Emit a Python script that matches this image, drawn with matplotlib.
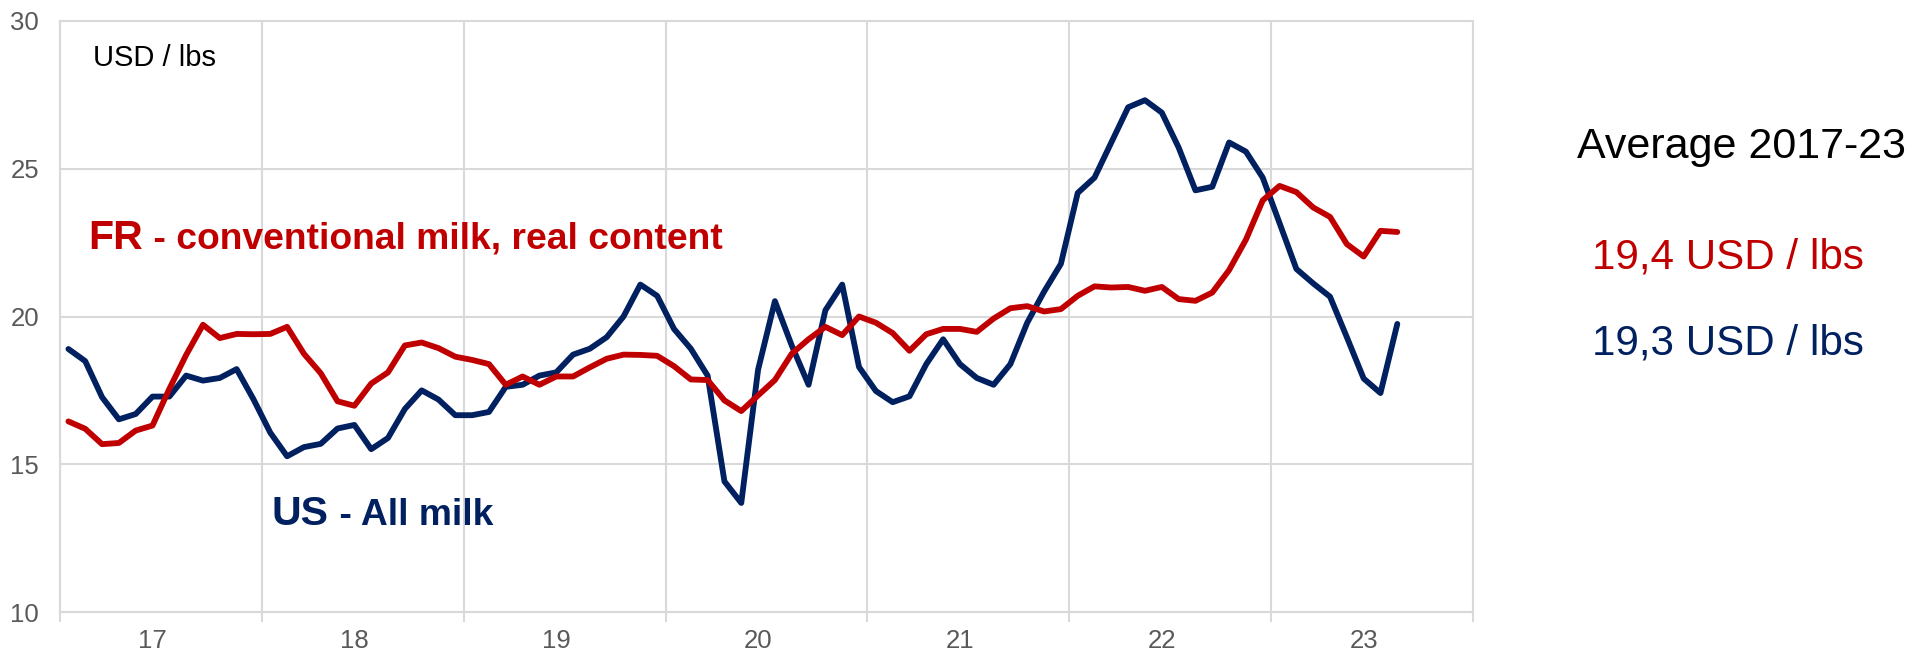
import numpy as np
from matplotlib import pyplot as plt

# Monthly milk prices, Jan 2017 - Aug 2023 (USD / lbs)
us_all_milk = [
	18.9, 18.49, 17.27, 16.52, 16.7, 17.29, 17.29, 18.0, 17.83, 17.92, 18.22, 17.2,
	16.07, 15.27, 15.58, 15.69, 16.21, 16.33, 15.51, 15.89, 16.87, 17.5, 17.19, 16.66,
	16.66, 16.77, 17.62, 17.69, 18.0, 18.11, 18.71, 18.91, 19.3, 20.0, 21.08, 20.7,
	19.58, 18.91, 18.0, 14.42, 13.69, 18.2, 20.52, 19.02, 17.69, 20.21, 21.08, 18.29,
	17.48, 17.1, 17.3, 18.39, 19.23, 18.39, 17.92, 17.69, 18.39, 19.79, 20.84, 21.78,
	24.18, 24.7, 25.89, 27.08, 27.32, 26.9, 25.72, 24.27, 24.39, 25.89, 25.58, 24.7,
	23.16, 21.61, 21.12, 20.67, 19.3, 17.9, 17.41, 19.75,
]
fr_conventional = [
	16.45, 16.2, 15.68, 15.72, 16.14, 16.31, 17.55, 18.7, 19.72, 19.27, 19.41, 19.4,
	19.41, 19.65, 18.74, 18.08, 17.13, 16.98, 17.73, 18.11, 19.02, 19.12, 18.93, 18.64,
	18.53, 18.39, 17.69, 17.97, 17.69, 17.97, 17.97, 18.28, 18.57, 18.71, 18.7, 18.67,
	18.32, 17.87, 17.85, 17.16, 16.8, 17.33, 17.85, 18.74, 19.23, 19.65, 19.37, 20.0,
	19.79, 19.44, 18.84, 19.4, 19.58, 19.58, 19.48, 19.93, 20.28, 20.35, 20.17, 20.25,
	20.7, 21.02, 20.98, 21.0, 20.87, 21.0, 20.59, 20.53, 20.81, 21.57, 22.6, 23.93,
	24.42, 24.21, 23.69, 23.37, 22.45, 22.03, 22.9, 22.86,
]
year_labels = ["17", "18", "19", "20", "21", "22", "23"]
avg_fr = "19,4 USD / lbs"
avg_us = "19,3 USD / lbs"

RED = "#C00000"
NAVY = "#002060"
GRID = "#D9D9D9"
TICK = "#595959"

plt.rcParams['font.family'] = ['Liberation Sans', 'DejaVu Sans']

W, H = 1926, 652
fig = plt.figure(figsize=(W / 100, H / 100), dpi=100)
# axes box in pixels: left 60, right 1473, top 21, bottom 612
ax = fig.add_axes([60 / W, (H - 612) / H, 1413 / W, 591 / H])

months = np.arange(len(us_all_milk)) + 0.5
n_months = 12 * len(year_labels)

ax.plot(months, us_all_milk, color=NAVY, lw=4.2, solid_joinstyle='round',
		solid_capstyle='round', zorder=3)
ax.plot(months, fr_conventional, color=RED, lw=4.2, solid_joinstyle='round',
		solid_capstyle='round', zorder=3)

ax.set_xlim(0, n_months)
ax.set_ylim(10, 30)

# Year boundaries as major ticks (grid), labels on minor ticks
ax.set_xticks(np.arange(0, n_months + 1, 12))
ax.set_xticklabels([])
ax.set_xticks(np.arange(len(year_labels)) * 12 + 5.5, minor=True)
ax.set_xticklabels(year_labels, minor=True)
ax.tick_params(axis='x', which='major', length=7, width=1.5, color=GRID)
ax.tick_params(axis='x', which='minor', length=0, pad=12, labelsize=18.5, labelcolor=TICK)

ax.set_yticks([10, 15, 20, 25, 30])
ax.tick_params(axis='y', length=0, pad=15, labelsize=18.5, labelcolor=TICK)

ax.grid(True, which='major', color=GRID, lw=1.5, zorder=0)
ax.set_axisbelow(True)
for s in ax.spines.values():
	s.set_color(GRID)
	s.set_linewidth(1.5)

# Unit label
ax.text(93, H - 66, "USD / lbs", transform=None, fontsize=21, color='black', va='baseline')


# Series labels, big prefix followed by smaller bold text
def two_part_label(x_px, y_px, big, small, color):
	t1 = ax.text(x_px, H - y_px, big, transform=None, fontsize=29.5,
				 fontweight='bold', color=color, va='baseline')
	fig.canvas.draw()
	x1 = t1.get_window_extent().x1
	ax.text(x1, H - y_px, " - " + small, transform=None, fontsize=26.8,
			fontweight='bold', color=color, va='baseline')


two_part_label(88, 249, "FR", "conventional milk, real content", RED)
two_part_label(272, 525, "US", "All milk", NAVY)

# Averages on the right
fig.text(1577 / W, 1 - 158 / H, "Average 2017-23", fontsize=31, color='black', va='baseline')
fig.text(1592 / W, 1 - 268 / H, avg_fr, fontsize=30.3, color=RED, va='baseline')
fig.text(1592 / W, 1 - 354 / H, avg_us, fontsize=30.3, color=NAVY, va='baseline')

fig.savefig("out.png", dpi=100)
